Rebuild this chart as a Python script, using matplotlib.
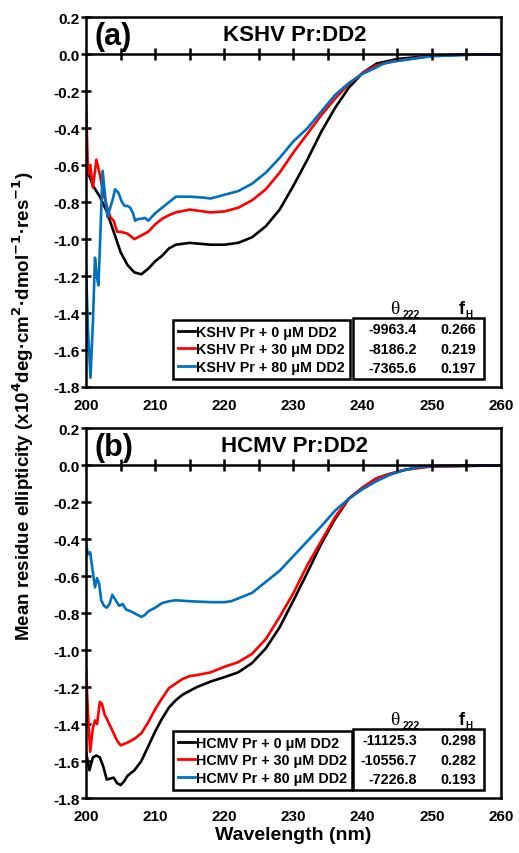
import numpy as np
import matplotlib.pyplot as plt
from matplotlib.patches import Rectangle
from matplotlib.lines import Line2D

plt.rcParams['font.family'] = ['Liberation Sans', 'DejaVu Sans']
plt.rcParams['font.weight'] = 'bold'

# ---- panel (a) KSHV Pr:DD2 ----
ka_x0 = [200, 200.5, 201, 202, 203, 204, 205, 206, 207, 208, 209, 210, 211, 212, 213, 215, 218, 220,
         222, 224, 226, 228, 230, 232, 234, 236, 238, 240, 242, 245, 250, 255, 260]
ka_y0 = [-0.60, -0.66, -0.71, -0.77, -0.85, -0.96, -1.07, -1.14, -1.18, -1.19, -1.16, -1.12, -1.09,
         -1.05, -1.03, -1.02, -1.03, -1.03, -1.02, -0.99, -0.93, -0.84, -0.71, -0.57, -0.42, -0.29,
         -0.18, -0.10, -0.05, -0.025, -0.007, -0.002, 0.0]
ka_x30 = [200, 200.3, 200.6, 201, 201.5, 202, 202.5, 203, 203.5, 204, 204.5, 205, 206, 207, 208, 209,
          210, 211, 212, 213, 215, 218, 220, 222, 224, 226, 228, 230, 232, 234, 236, 238, 240, 242, 244,
          246, 250, 255, 260]
ka_y30 = [-0.27, -0.65, -0.60, -0.72, -0.57, -0.65, -0.75, -0.82, -0.88, -0.90, -0.96, -0.96, -0.97,
          -1.00, -0.98, -0.96, -0.92, -0.89, -0.87, -0.855, -0.84, -0.855, -0.85, -0.83, -0.79, -0.73,
          -0.64, -0.53, -0.43, -0.33, -0.24, -0.16, -0.10, -0.06, -0.04, -0.03, -0.007, 0.0, 0.0]
ka_x80 = [200, 200.3, 200.65, 201, 201.3, 201.55, 201.8, 202.1, 202.4, 202.8, 203.1, 203.5, 203.9,
          204.2, 204.7, 205.2, 205.6, 206, 206.4, 206.8, 207.1, 207.6, 208, 208.5, 209, 209.5, 210,
          211, 212, 213, 215, 217, 218, 220, 222, 224, 226, 228, 230, 232, 234, 236, 238, 240, 242,
          243, 245, 250, 255, 260]
ka_y80 = [-1.15, -1.50, -1.75, -1.45, -1.10, -1.20, -1.25, -0.95, -0.63, -0.78, -0.88, -0.83, -0.78,
          -0.73, -0.75, -0.80, -0.82, -0.82, -0.83, -0.86, -0.90, -0.89, -0.89, -0.885, -0.90, -0.88,
          -0.86, -0.83, -0.80, -0.77, -0.77, -0.775, -0.78, -0.76, -0.74, -0.70, -0.64, -0.56, -0.47,
          -0.40, -0.31, -0.22, -0.155, -0.105, -0.07, -0.05, -0.035, -0.01, -0.002, 0.0]

# ---- panel (b) HCMV Pr:DD2 ----
hb_x0 = [200, 200.5, 201, 201.5, 202, 202.5, 203, 204, 204.5, 205, 205.5, 206, 207, 208, 209, 210,
         211, 212, 213, 214, 215, 216, 217, 218, 220, 222, 224, 226, 228, 230, 232, 234, 236, 238,
         240, 242, 244, 246, 248, 250, 260]
hb_y0 = [-1.55, -1.65, -1.58, -1.57, -1.58, -1.63, -1.70, -1.69, -1.72, -1.73, -1.71, -1.68, -1.65,
         -1.60, -1.52, -1.44, -1.37, -1.31, -1.27, -1.24, -1.22, -1.20, -1.185, -1.17, -1.146, -1.12,
         -1.07, -0.99, -0.876, -0.73, -0.58, -0.425, -0.29, -0.18, -0.12, -0.07, -0.045, -0.025,
         -0.01, -0.005, 0.0]
hb_x30 = [200, 200.3, 200.6, 201, 201.3, 201.6, 202, 202.3, 202.7, 203, 203.5, 204, 204.5, 205, 206,
          207, 208, 209, 210, 211, 212, 213, 214, 215, 216, 218, 220, 222, 224, 226, 228, 230, 232,
          234, 236, 238, 240, 242, 244, 246, 250, 260]
hb_y30 = [-1.10, -1.35, -1.55, -1.42, -1.38, -1.40, -1.28, -1.29, -1.35, -1.37, -1.41, -1.45, -1.49,
          -1.515, -1.50, -1.48, -1.45, -1.39, -1.32, -1.26, -1.205, -1.18, -1.155, -1.14, -1.135,
          -1.12, -1.09, -1.065, -1.02, -0.94, -0.82, -0.69, -0.54, -0.41, -0.28, -0.18, -0.12, -0.07,
          -0.045, -0.025, -0.005, 0.0]
hb_x80 = [200, 200.3, 200.6, 201, 201.3, 201.6, 201.9, 202.2, 202.6, 203, 203.4, 203.8, 204.3, 204.8,
          205.3, 205.8, 206.5, 207, 207.5, 208, 208.5, 209, 210, 211, 212, 213, 215, 218, 220, 221,
          222, 224, 226, 228, 230, 232, 234, 236, 238, 240, 242, 244, 246, 248, 250, 260]
hb_y80 = [-0.43, -0.48, -0.47, -0.58, -0.66, -0.61, -0.64, -0.73, -0.76, -0.77, -0.75, -0.70, -0.73,
          -0.76, -0.75, -0.78, -0.79, -0.80, -0.81, -0.82, -0.81, -0.79, -0.77, -0.745, -0.735, -0.73,
          -0.735, -0.74, -0.74, -0.735, -0.72, -0.69, -0.63, -0.57, -0.49, -0.41, -0.33, -0.245,
          -0.18, -0.128, -0.085, -0.05, -0.025, -0.01, -0.003, 0.0]

colors = ['black', '#ff0000', '#0070c0']
conc = [0, 30, 80]
theta_a = ['-9963.4', '-8186.2', '-7365.6']
fh_a = ['0.266', '0.219', '0.197']
theta_b = ['-11125.3', '-10556.7', '-7226.8']
fh_b = ['0.298', '0.282', '0.193']
yticks = [-1.8, -1.6, -1.4, -1.2, -1.0, -0.8, -0.6, -0.4, -0.2, 0.0, 0.2]
ytick_labels = ['-1.8', '-1.6', '-1.4', '-1.2', '-1.0', '-0.8', '-0.6', '-0.4', '-0.2', '0.0', '0.2']

fig = plt.figure(figsize=(5.19, 8.54), dpi=100)
ax1 = fig.add_axes([0.1657, 0.5457, 0.7996, 0.4327])
ax2 = fig.add_axes([0.1657, 0.0644, 0.7996, 0.4327])

panels = [
    (ax1, '(a)', 'KSHV Pr:DD2', 'KSHV',
     [(ka_x0, ka_y0), (ka_x30, ka_y30), (ka_x80, ka_y80)], theta_a, fh_a),
    (ax2, '(b)', 'HCMV Pr:DD2', 'HCMV',
     [(hb_x0, hb_y0), (hb_x30, hb_y30), (hb_x80, hb_y80)], theta_b, fh_b),
]

for ax, tag, title, virus, series, thetas, fhs in panels:
    for (x, y), c in zip(series, colors):
        ax.plot(x, y, color=c, lw=1.9)
    ax.set_xlim(200, 260)
    ax.set_ylim(-1.8, 0.2)
    ax.set_yticks(yticks)
    ax.set_yticklabels(ytick_labels)
    ax.set_xticks(np.arange(200, 261, 10))
    ax.tick_params(axis='y', direction='inout', length=7, width=1.8, pad=1, labelsize=11)
    ax.tick_params(axis='x', length=0, pad=8, labelsize=11)
    for s in ax.spines.values():
        s.set_linewidth(1.8)
    # zero line with crossing ticks
    ax.axhline(0, color='black', lw=1.8)
    xt = np.arange(205, 256, 5)
    ax.plot(xt, np.zeros_like(xt), ls='', marker='|', ms=8, mew=1.8, color='black')

    ax.text(0.02, 0.95, tag, transform=ax.transAxes, fontsize=22, fontweight='bold',
            va='center', ha='left')
    ax.text(0.502, 0.955, title, transform=ax.transAxes, fontsize=16, fontweight='bold',
            va='center', ha='center')

    handles = [Line2D([], [], color=c, lw=2) for c in colors]
    labels = [f'{virus} Pr + {n} \u03bcM DD2' for n in conc]
    leg = ax.legend(handles, labels, loc='lower left', bbox_to_anchor=(0.21, 0.022),
                    borderaxespad=0, handlelength=1.2, handletextpad=0.05,
                    labelspacing=0.25, borderpad=0.35, fancybox=False, framealpha=1,
                    edgecolor='black', prop={'weight': 'bold', 'size': 10.3})
    leg.get_frame().set_linewidth(1.8)

    ax.add_patch(Rectangle((0.643, 0.022), 0.317, 0.166, transform=ax.transAxes,
                           fill=False, lw=1.8, ec='black', zorder=5))
    ax.text(0.745, 0.213, '\u03b8', transform=ax.transAxes, fontsize=14, fontweight='normal',
            family='Liberation Serif', ha='center', va='center')
    ax.text(0.762, 0.198, '222', transform=ax.transAxes, fontsize=7.5, fontweight='bold',
            ha='left', va='center')
    ax.text(0.905, 0.212, 'f', transform=ax.transAxes, fontsize=13, fontweight='bold',
            ha='center', va='center')
    ax.text(0.915, 0.198, 'H', transform=ax.transAxes, fontsize=7, fontweight='bold',
            ha='left', va='center')
    rows = [0.156, 0.103, 0.051]
    for yy, t, f in zip(rows, thetas, fhs):
        ax.text(0.798, yy, t, transform=ax.transAxes, fontsize=10.3, fontweight='bold',
                ha='right', va='center')
        ax.text(0.94, yy, f, transform=ax.transAxes, fontsize=10.3, fontweight='bold',
                ha='right', va='center')

ax2.set_xlabel('Wavelength (nm)', fontsize=14, fontweight='bold', labelpad=2)
fig.text(0.044, 0.524,
         'Mean residue ellipticity (x10$^{\\mathbf{4}}$deg\u00b7cm$^{\\mathbf{2}}$\u00b7dmol$^{\\mathbf{-1}}$\u00b7res$^{\\mathbf{-1}}$)',
         rotation=90, fontsize=13.5, fontweight='bold', ha='center', va='center')

fig.savefig('out.png', dpi=100)
